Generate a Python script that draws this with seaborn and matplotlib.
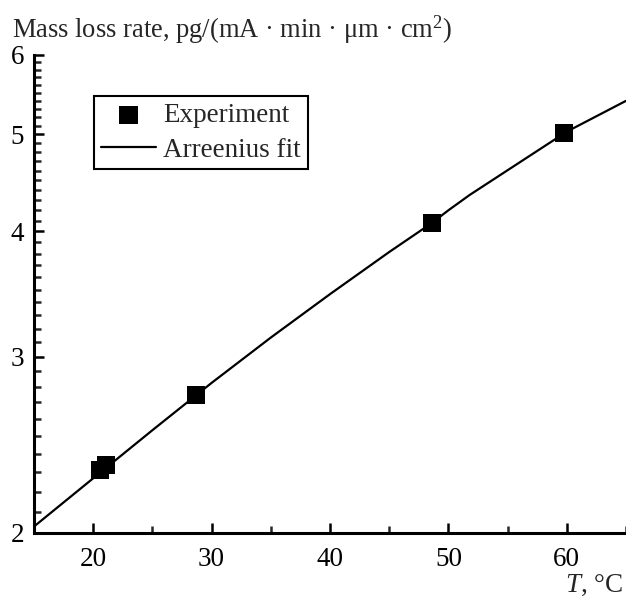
import numpy as np
import pandas as pd
import matplotlib
matplotlib.use("Agg")
import matplotlib.pyplot as plt
from matplotlib.ticker import FixedLocator, NullFormatter, FixedFormatter
import seaborn as sns

# Measured mass loss rate vs temperature
exp_T = [20.6, 21.1, 28.65, 48.6, 59.75]
exp_rate = [2.312, 2.338, 2.746, 4.078, 5.016]

# Arrhenius fit curve
fit_T = [15, 20, 25, 30, 35, 40, 45, 48.6, 50, 51.8, 55, 60, 65]
fit_rate = [2.030, 2.268, 2.533, 2.824, 3.134, 3.463, 3.815, 4.078, 4.199, 4.350,
            4.604, 5.031, 5.40]

x_major = [20, 30, 40, 50, 60]
x_minor = [15, 25, 35, 45, 55, 65]
y_major = [2, 3, 4, 5, 6]

sns.set_style("ticks")
plt.rcParams["font.family"] = ["Liberation Serif", "DejaVu Serif"]
plt.rcParams["mathtext.fontset"] = "custom"
plt.rcParams["mathtext.rm"] = "Liberation Serif"
plt.rcParams["mathtext.it"] = "Liberation Serif:italic"

FS = 19.5

fig = plt.figure(figsize=(6.26, 5.99), dpi=100)
ax = fig.add_axes([34 / 626, (599 - 533) / 599, (626 - 34) / 626, (533 - 55) / 599])

df_exp = pd.DataFrame({"T": exp_T, "rate": exp_rate})
df_fit = pd.DataFrame({"T": fit_T, "rate": fit_rate})

sns.lineplot(data=df_fit, x="T", y="rate", ax=ax, color="black", lw=1.6,
             label="Arreenius fit", zorder=2)
sns.scatterplot(data=df_exp, x="T", y="rate", ax=ax, color="black", marker="s",
                s=170, edgecolor="none", label="Experiment", zorder=3)

ax.set_yscale("log")
ax.set_xlim(15, 65)
ax.set_ylim(2, 6)

ax.xaxis.set_major_locator(FixedLocator(x_major))
ax.xaxis.set_minor_locator(FixedLocator(x_minor))
ax.set_xticklabels([str(v) for v in x_major])

y_minor = [round(v, 1) for v in np.arange(2.1, 6.0, 0.1) if abs(v - round(v)) > 1e-6]
ax.yaxis.set_major_locator(FixedLocator(y_major))
ax.yaxis.set_major_formatter(FixedFormatter([str(v) for v in y_major]))
ax.yaxis.set_minor_locator(FixedLocator(y_minor))
ax.yaxis.set_minor_formatter(NullFormatter())

for side in ["top", "right"]:
    ax.spines[side].set_visible(False)
for side in ["left", "bottom"]:
    ax.spines[side].set_linewidth(2.2)
    ax.spines[side].set_color("black")

ax.tick_params(which="major", direction="in", length=7.5, width=1.8, labelsize=FS,
               colors="black")
ax.tick_params(which="minor", direction="in", length=5, width=1.8)
ax.tick_params(axis="x", which="major", pad=10)
ax.tick_params(axis="y", which="major", pad=7)

ax.set_xlabel("")
ax.set_ylabel("")

handles, labels = ax.get_legend_handles_labels()
order = [labels.index("Experiment"), labels.index("Arreenius fit")]
leg = ax.legend([handles[i] for i in order], [labels[i] for i in order],
                loc="upper left", bbox_to_anchor=((94 - 34) / 592, (533 - 96) / 478),
                borderaxespad=0, fontsize=FS, frameon=True, fancybox=False,
                framealpha=1, edgecolor="black", handlelength=2.05,
                handletextpad=0.26, borderpad=0.25, labelspacing=0.36)
leg.get_frame().set_linewidth(1.5)

fig.text(12 / 626, 1 - 38 / 599,
         "Mass loss rate, pg/(mA · min · μm · cm$^{2}$)",
         fontsize=19.1, ha="left", va="baseline")
fig.text(623 / 626, 1 - 592 / 599, "$\\it{T}$, °C", fontsize=FS,
         ha="right", va="baseline")

fig.savefig("out.png", dpi=100, facecolor="white")
